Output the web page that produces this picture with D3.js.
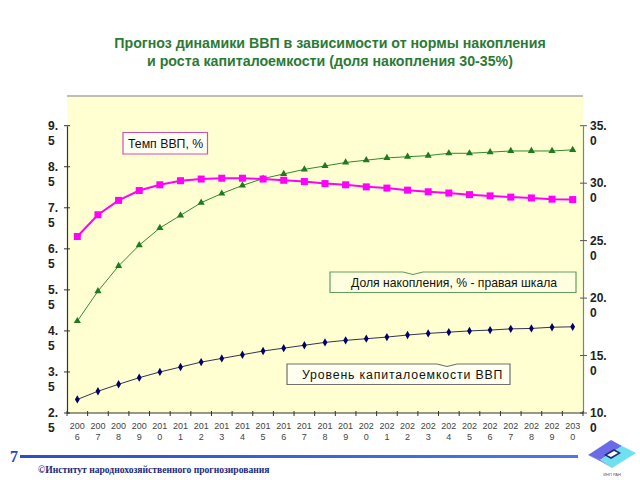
<!DOCTYPE html>
<html><head><meta charset="utf-8">
<script src="https://cdn.jsdelivr.net/npm/d3@7"></script>
<style>body{margin:0;background:#fff}svg{display:block}</style>
</head><body>
<svg id="c" width="640" height="480"></svg>
<script>
const years = [2006,2007,2008,2009,2010,2011,2012,2013,2014,2015,2016,2017,2018,2019,2020,2021,2022,2023,2024,2025,2026,2027,2028,2029,2030];
const gdpGrowth = [6.80,7.33,7.68,7.92,8.06,8.16,8.20,8.22,8.22,8.20,8.17,8.14,8.09,8.06,8.01,7.98,7.93,7.89,7.86,7.82,7.79,7.76,7.74,7.71,7.70];
const savingsRate = [18.0,20.6,22.8,24.6,26.1,27.2,28.3,29.1,29.8,30.4,30.8,31.2,31.5,31.8,32.0,32.2,32.3,32.4,32.6,32.6,32.7,32.8,32.8,32.8,32.9];
const capIntensity = [2.83,3.03,3.20,3.36,3.50,3.62,3.74,3.83,3.92,4.01,4.08,4.15,4.22,4.27,4.31,4.35,4.40,4.44,4.47,4.50,4.52,4.55,4.56,4.59,4.60];
const leftTicks = [2.5,3.5,4.5,5.5,6.5,7.5,8.5,9.5];
const rightTicks = [10,15,20,25,30,35];
const titleLines = ["Прогноз динамики ВВП в зависимости от нормы накопления","и роста капиталоемкости (доля накопления 30-35%)"];
const labelGdp = "Темп ВВП, %";
const labelSav = "Доля накопления, % - правая шкала";
const labelCap = "Уровень капиталоемкости ВВП";

const svg = d3.select("#c");
const L=67, R=583, T=96, B=413, TOPTICK=125.7;
const x = d3.scaleBand().domain(years).range([L,R]);
const yL = d3.scaleLinear().domain([2.5,9.5]).range([B,TOPTICK]);
const yR = d3.scaleLinear().domain([10,35]).range([B,TOPTICK]);

// title
svg.append("g").selectAll("text").data(titleLines).join("text")
  .attr("x",330).attr("y",(d,i)=>48+i*18).attr("text-anchor","middle")
  .attr("font-family","Liberation Sans, Arial, sans-serif").attr("font-weight","bold")
  .attr("font-size",14.2).attr("fill","#2b7a34").text(d=>d);

// plot area
svg.append("rect").attr("x",L).attr("y",T).attr("width",R-L).attr("height",B-T).attr("fill","#ffffd2");
svg.append("line").attr("x1",L).attr("x2",R).attr("y1",T).attr("y2",T).attr("stroke","#a8a8a8").attr("stroke-width",1.5);

// left axis
const gL = svg.append("g").attr("transform",`translate(${L},0)`);
gL.call(d3.axisLeft(yL).tickValues(leftTicks).tickSize(0).tickFormat(""));
gL.select(".domain").attr("stroke","#333").attr("stroke-width",1.2);
gL.selectAll(".tick line").remove();
leftTicks.forEach(v=>{
  gL.append("line").attr("x1",-3).attr("x2",3).attr("y1",yL(v)).attr("y2",yL(v)).attr("stroke","#333");
  const s=d3.format(".1f")(v).split(".");
  const t=gL.append("text").attr("text-anchor","start").attr("font-family","Liberation Sans, Arial, sans-serif")
    .attr("font-size",12).attr("font-weight","bold").attr("fill","#222");
  t.append("tspan").attr("x",-19).attr("y",yL(v)+4).text(s[0]+".");
  t.append("tspan").attr("x",-19).attr("y",yL(v)+19).text(s[1]);
});

// right axis
const gR = svg.append("g").attr("transform",`translate(${R},0)`);
gR.call(d3.axisRight(yR).tickValues(rightTicks).tickSize(0).tickFormat(""));
gR.select(".domain").attr("stroke","#6f8f5f").attr("stroke-width",1.2);
rightTicks.forEach(v=>{
  gR.append("line").attr("x1",-3).attr("x2",4).attr("y1",yR(v)).attr("y2",yR(v)).attr("stroke","#555");
  const s=d3.format(".1f")(v).split(".");
  const t=gR.append("text").attr("text-anchor","start").attr("font-family","Liberation Sans, Arial, sans-serif")
    .attr("font-size",12).attr("font-weight","bold").attr("fill","#222");
  t.append("tspan").attr("x",7).attr("y",yR(v)+4).text(s[0]+".");
  t.append("tspan").attr("x",7).attr("y",yR(v)+19).text(s[1]);
});

// x axis
const gX = svg.append("g").attr("transform",`translate(0,${B})`);
gX.append("line").attr("x1",L).attr("x2",R).attr("stroke","#333").attr("stroke-width",1.2);
years.forEach((yv,i)=>{
  const xx = x(yv);
  gX.append("line").attr("x1",xx).attr("x2",xx).attr("y1",-2).attr("y2",3).attr("stroke","#333");
  const s=String(yv);
  const t=gX.append("text").attr("text-anchor","middle").attr("font-family","Liberation Sans, Arial, sans-serif")
    .attr("font-size",9).attr("fill","#444");
  t.append("tspan").attr("x",xx+x.bandwidth()/2).attr("y",16).text(s.slice(0,3));
  t.append("tspan").attr("x",xx+x.bandwidth()/2).attr("y",27).text(s.slice(3));
});
gX.append("line").attr("x1",R).attr("x2",R).attr("y1",-2).attr("y2",3).attr("stroke","#333");

const cx = d=>x(d)+x.bandwidth()/2;

// green savings rate (right)
svg.append("path").datum(years).attr("fill","none").attr("stroke","#2f8a2f").attr("stroke-width",1)
  .attr("d",d3.line().x(cx).y((d,i)=>yR(savingsRate[i])));
svg.append("g").selectAll("path").data(years).join("path")
  .attr("transform",(d,i)=>`translate(${cx(d)},${yR(savingsRate[i])})`)
  .attr("d",d3.symbol(d3.symbolTriangle,22)).attr("fill","#1e7a1e");

// navy capital intensity (left)
svg.append("path").datum(years).attr("fill","none").attr("stroke","#333355").attr("stroke-width",1)
  .attr("d",d3.line().x(cx).y((d,i)=>yL(capIntensity[i])));
svg.append("g").selectAll("path").data(years).join("path")
  .attr("transform",(d,i)=>`translate(${cx(d)},${yL(capIntensity[i])})`)
  .attr("d",d3.symbol(d3.symbolDiamond,20)).attr("fill","#000066");

// pink GDP growth (left)
svg.append("path").datum(years).attr("fill","none").attr("stroke","#ff00ff").attr("stroke-width",2)
  .attr("d",d3.line().x(cx).y((d,i)=>yL(gdpGrowth[i])));
svg.append("g").selectAll("rect").data(years).join("rect")
  .attr("x",d=>cx(d)-3.5).attr("y",(d,i)=>yL(gdpGrowth[i])-3.5).attr("width",7).attr("height",7)
  .attr("fill","#ff00ff");

// callout boxes
function callout(x0,y0,x1,y1,notch,stroke,fill){
  let p=`M${x0},${y0}`;
  if(notch!=null){p+=`L${notch-10},${y0}L${notch},${y0+2.5}L${notch+10},${y0}`;}
  p+=`L${x1},${y0}L${x1},${y1}L${x0},${y1}Z`;
  svg.append("path").attr("d",p).attr("fill",fill).attr("stroke",stroke).attr("stroke-width",1.2);
}
const ff="Liberation Sans, Arial, sans-serif";
callout(123,132.5,207.5,154,null,"#d050b0","#fffff4");
svg.append("text").attr("x",128).attr("y",148).attr("font-family",ff).attr("font-size",12.3).attr("fill","#111").text(labelGdp);
callout(330,272,576,292.5,413,"#5f9f5f","#ffffe0");
svg.append("text").attr("x",351).attr("y",287).attr("font-family",ff).attr("font-size",12.2).attr("fill","#111").text(labelSav);
callout(287,364,510,384.5,447,"#707070","#fffff0");
svg.append("text").attr("x",302).attr("y",379).attr("font-family",ff).attr("font-size",12.3).attr("letter-spacing",0.85).attr("fill","#111").text(labelCap);

// footer
const grad = svg.append("defs").append("linearGradient").attr("id","bl").attr("x1","0").attr("x2","1");
grad.append("stop").attr("offset","0").attr("stop-color","#2f4fc0");
grad.append("stop").attr("offset","1").attr("stop-color","#4a78e8");
svg.append("text").attr("x",10).attr("y",462).attr("font-family","Liberation Serif, serif").attr("font-weight","bold")
  .attr("font-size",16).attr("fill","#2a44b8").text("7");
svg.append("rect").attr("x",20).attr("y",455).attr("width",558).attr("height",3).attr("fill","url(#bl)");
svg.append("text").attr("x",38).attr("y",473).attr("font-family","Liberation Serif, serif").attr("font-weight","bold")
  .attr("font-size",9.6).attr("fill","#1a2a80").text("©Институт народнохозяйственного прогнозирования");

// logo
const lg = svg.append("g");
lg.append("polygon").attr("points","588,455 611,440 622,446 600,460").attr("fill","#6b6be8");
lg.append("polygon").attr("points","600,460 622,446 636,453 612,468").attr("fill","#6fe0f0");
lg.append("polygon").attr("points","588,455 600,460 612,468 602,462").attr("fill","#5a5ad0");
lg.append("polygon").attr("points","604,455 614,449 621,453 611,459").attr("fill","#1c2a70");
lg.append("polygon").attr("points","607,455 614,451 618,453 611,457").attr("fill","#ffffff");
lg.append("text").attr("x",612).attr("y",476).attr("text-anchor","middle").attr("font-family",ff).attr("font-size",4).attr("fill","#556").text("ИНП РАН");
</script>
</body></html>
